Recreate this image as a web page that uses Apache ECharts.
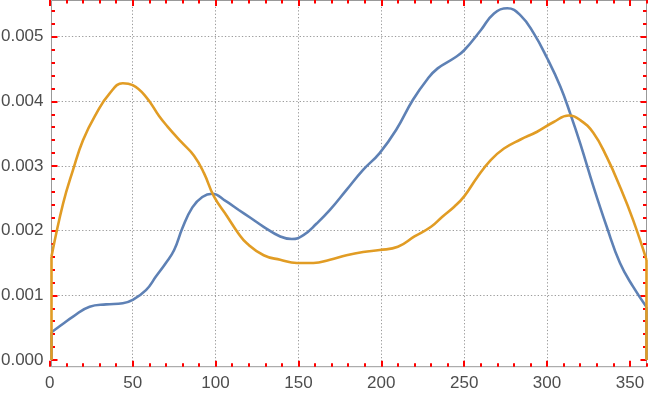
<!DOCTYPE html>
<html>
<head>
<meta charset="utf-8">
<script src="https://cdn.jsdelivr.net/npm/echarts@6/dist/echarts.min.js"></script>
<style>
html,body{margin:0;padding:0;background:#fff;}
#c{width:649px;height:400px;}
</style>
</head>
<body>
<div id="c"></div>
<script>
// ---- data ----
const blueX = [1, 8, 14, 24, 34, 44, 50, 58, 64, 70, 75, 80, 86, 92, 98, 106, 114, 121, 129, 139, 146, 153,
               161, 169, 179, 189, 199, 209, 219, 228, 234, 244, 250, 260, 268, 276, 284, 292, 300, 308,
               314, 320, 328, 336, 344, 352, 360];
const blueY = [0.00043, 0.00056, 0.00067, 0.000825, 0.00086, 0.000877, 0.00093, 0.00108, 0.00129, 0.0015,
               0.0017, 0.00204, 0.00236, 0.00252, 0.00257, 0.00246, 0.00232, 0.0022, 0.00206, 0.00191,
               0.00187, 0.00193, 0.00211, 0.00232, 0.00263, 0.00294, 0.0032, 0.00356, 0.00402, 0.00435,
               0.00451, 0.00467, 0.00479, 0.0051, 0.00536, 0.00544, 0.00533, 0.00505, 0.00467, 0.00423,
               0.00381, 0.00335, 0.00268, 0.00206, 0.0015, 0.00113, 0.00082];
const orangeX = [1, 8, 14, 20, 28, 36, 44, 50, 58, 66, 71, 79, 87, 93, 99, 107, 114, 119, 129, 139, 149,
                 159, 169, 179, 189, 199, 210, 220, 230, 237, 244, 250, 258, 266, 274, 284, 294, 304, 313,
                 320, 328, 336, 344, 352, 360];
const orangeY = [0.0016, 0.00242, 0.00294, 0.0034, 0.00381, 0.00412, 0.00428, 0.00425, 0.00407, 0.00377,
                 0.00361, 0.00338, 0.00316, 0.00289, 0.00253, 0.00222, 0.00195, 0.0018, 0.00162, 0.00155,
                 0.0015, 0.0015, 0.00155, 0.00162, 0.00167, 0.0017, 0.00175, 0.00191, 0.00206, 0.00222,
                 0.00237, 0.00253, 0.00283, 0.00309, 0.00327, 0.00341, 0.00353, 0.00368, 0.00378, 0.00371,
                 0.00351, 0.00314, 0.00268, 0.00216, 0.00155];
const xTickStep = 50;
const yTickStep = 0.001;

// ---- styles ----
const BLUE = '#5E81B5', ORANGE = '#E19C24';
const FRAME = '#999999', TICK = 'red', GRID = '#9c9c9c', LABEL = '#4d4d4d';
const FONT = 'Liberation Sans, Arial, sans-serif';
const DOT = [1.3, 2.1];

function pairs(xv, yv) { return xv.map((x, i) => [x, yv[i]]); }
function edges(xv, yv) {
  const n = xv.length - 1;
  return [[[xv[0], 0], [xv[0], yv[0]]], [[xv[n], 0], [xv[n], yv[n]]]];
}

const chart = echarts.init(document.getElementById('c'), null, {renderer: 'canvas'});

const lineSeries = (name, data, color) => ({
  type: 'line', name, data, xAxisIndex: 4, yAxisIndex: 2,
  smooth: 0.45, showSymbol: false, symbol: 'none',
  lineStyle: {color, width: 2.6}, z: 5
});
const edgeSeries = (seg, color) => ({
  type: 'line', data: seg, xAxisIndex: 4, yAxisIndex: 2,
  showSymbol: false, symbol: 'none', lineStyle: {color, width: 2.6}, z: 5
});
const be = edges(blueX, blueY), oe = edges(orangeX, orangeY);
const tc = () => ({
  axisLine: {show: false},
  axisTick: {show: true, inside: true, length: 6, lineStyle: {color: TICK, width: 2}},
  minorTick: {show: true, splitNumber: 5, length: 3.5, lineStyle: {color: TICK, width: 2}}
});
const gb = () => ({outerBoundsMode: 'none', containLabel: false});

chart.setOption({
  animation: false,
  backgroundColor: '#fff',
  grid: [
    Object.assign({left: 51.5, right: 2.5, top: 0.5, bottom: 33.3, show: true, borderColor: FRAME, borderWidth: 1, backgroundColor: 'transparent'}, gb()),
    Object.assign({left: 49.8, right: -63.8, top: 0, bottom: 33.3}, gb()),
    Object.assign({left: 51.5, right: 2.5, top: -28, bottom: 40}, gb()),
    Object.assign({left: 49.8, right: 20.8, top: 0, bottom: 33.3}, gb())
  ],
  xAxis: [
    {gridIndex: 0, type: 'value', min: 0, max: 1, show: false},
    Object.assign({gridIndex: 1, type: 'value', min: 0, max: 400, interval: xTickStep, position: 'bottom',
     axisLabel: {show: true, margin: 8, color: LABEL, fontSize: 17, fontFamily: FONT},
     splitLine: {show: false}}, tc()),
    Object.assign({gridIndex: 1, type: 'value', min: 0, max: 400, interval: xTickStep, position: 'top',
     axisLabel: {show: false}, splitLine: {show: false}}, tc()),
    {gridIndex: 3, type: 'value', min: 0, max: 349, interval: xTickStep,
     axisLine: {show: false}, axisTick: {show: false}, axisLabel: {show: false},
     splitLine: {show: true, showMinLine: false, showMaxLine: false, lineStyle: {color: GRID, type: DOT, width: 1}}},
    {gridIndex: 2, type: 'value', min: 1, max: 360, show: false}
  ],
  yAxis: [
    {gridIndex: 0, type: 'value', min: 0, max: 1, show: false},
    {gridIndex: 1, type: 'value', min: 0, max: 1, show: false},
    Object.assign({gridIndex: 2, type: 'value', min: 0, max: 0.006, interval: yTickStep, position: 'left',
     axisLabel: {show: true, margin: 8, color: LABEL, fontSize: 17, fontFamily: FONT,
                 formatter: v => v.toFixed(3)},
     splitLine: {show: true, showMinLine: false, showMaxLine: false, lineStyle: {color: GRID, type: DOT, width: 1}}}, tc()),
    Object.assign({gridIndex: 2, type: 'value', min: 0, max: 0.006, interval: yTickStep, position: 'right',
     axisLabel: {show: false}, splitLine: {show: false}}, tc()),
    {gridIndex: 3, type: 'value', min: 0, max: 1, show: false}
  ],
  series: [
    edgeSeries(be[0], BLUE), edgeSeries(be[1], BLUE),
    lineSeries('blue', pairs(blueX, blueY), BLUE),
    edgeSeries(oe[0], ORANGE), edgeSeries(oe[1], ORANGE),
    lineSeries('orange', pairs(orangeX, orangeY), ORANGE)
  ]
});
</script>
</body>
</html>
